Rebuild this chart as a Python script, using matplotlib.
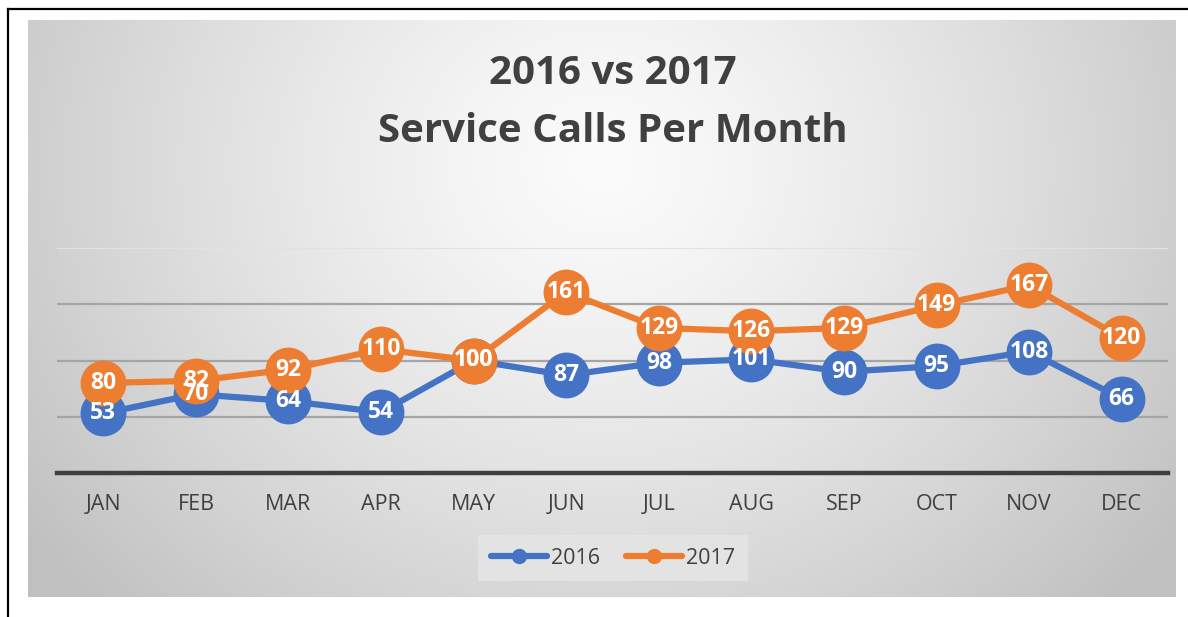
import numpy as np
import matplotlib
matplotlib.use("Agg")
import matplotlib.pyplot as plt
from matplotlib.lines import Line2D

months = ["JAN", "FEB", "MAR", "APR", "MAY", "JUN", "JUL", "AUG", "SEP", "OCT", "NOV", "DEC"]
calls_2016 = [53, 70, 64, 54, 100, 87, 98, 101, 90, 95, 108, 66]
calls_2017 = [80, 82, 92, 110, 100, 161, 129, 126, 129, 149, 167, 120]
series_names = ["2016", "2017"]
colors = ["#4472C4", "#ED7D31"]

plt.rcParams['font.family'] = ['Open Sans', 'DejaVu Sans']

W, H = 1188, 617
fig = plt.figure(figsize=(W / 100, H / 100), dpi=100)
fig.patch.set_facecolor("white")

def fx(x): return x / W
def fy(y): return 1 - y / H

# outer black border lines (top and left)
fig.add_artist(Line2D([fx(8), 1.0], [fy(9), fy(9)], color="black", lw=1.6, transform=fig.transFigure))
fig.add_artist(Line2D([fx(8), fx(8)], [fy(9), 0.0], color="black", lw=1.6, transform=fig.transFigure))

# gradient background of chart area
x0, y0, x1, y1 = 28, 20, 1176, 597
bg = fig.add_axes([fx(x0), fy(y1), fx(x1 - x0), (y1 - y0) / H])
ny, nx = 300, 600
yy, xx = np.mgrid[0:ny, 0:nx]
u = xx / (nx - 1)
v = yy / (ny - 1)
d = np.sqrt(((u - 0.5) / 0.62) ** 2 + ((v - 0.25) / 1.1) ** 2)
d = np.clip(d, 0, 1)
val = 0.985 - 0.23 * d ** 1.3
img = np.dstack([val, val, val])
bg.imshow(img, aspect="auto", extent=[0, 1, 0, 1], origin="upper")
bg.set_xlim(0, 1); bg.set_ylim(0, 1)
bg.axis("off")

# main plot
ax = fig.add_axes([fx(57), fy(473), fx(1168 - 57), (473 - 248) / H])
ax.set_facecolor("none")
ax.set_xlim(-0.5, 11.5)
ax.set_ylim(0, 200)
for s in ax.spines.values():
    s.set_visible(False)
for g in [50, 100, 150]:
    ax.axhline(g, color="#a5a5a5", lw=1.6, zorder=1)
ax.axhline(200, color="#e2e2e2", lw=1.6, zorder=1)
ax.axhline(0, color="#3f3f3f", lw=3.2, zorder=2, clip_on=False)
ax.set_yticks([])
x = np.arange(len(months))
ax.set_xticks(x)
ax.set_xticklabels(months, fontsize=15.5, color="#404040")
ax.tick_params(axis="x", length=0, pad=15)

for data, c, name in zip([calls_2016, calls_2017], colors, series_names):
    ax.plot(x, data, color=c, lw=4.5, marker="o", markersize=32, zorder=3, clip_on=False, label=name)
    for xi, yi in zip(x, data):
        ax.text(xi, yi, str(yi), ha="center", va="center", color="white",
                fontsize=16.5, fontweight="bold", zorder=4)

fig.text(fx(613), fy(73), "2016 vs 2017", ha="center", va="center",
         fontsize=29, fontweight="bold", color="#404040")
fig.text(fx(613), fy(131), "Service Calls Per Month", ha="center", va="center",
         fontsize=29, fontweight="bold", color="#404040")

handles = [Line2D([0], [0], color=c, lw=4.5, marker="o", markersize=10, solid_capstyle="round") for c in colors]
leg = fig.legend(handles, series_names, loc="center", bbox_to_anchor=(fx(613), fy(558)),
                 ncol=2, fontsize=15.5, frameon=True, facecolor="#e3e3e3", edgecolor="none",
                 fancybox=False, handlelength=2.6, columnspacing=1.2, handletextpad=0.2,
                 borderpad=0.6)
for t in leg.get_texts():
    t.set_color("#404040")
leg.get_frame().set_alpha(1)

fig.savefig("out.png", dpi=100)
